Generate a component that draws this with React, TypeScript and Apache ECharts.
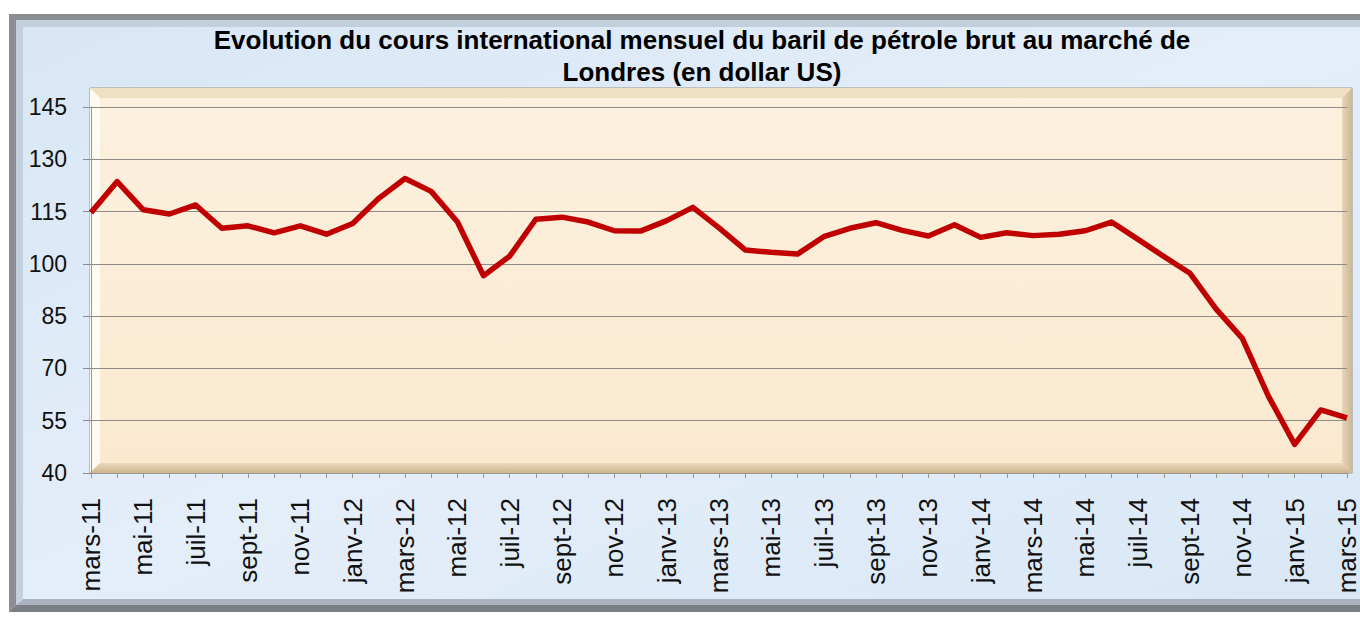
import React, { useEffect, useRef } from "react";
import * as echarts from "echarts";

const TITLE = "Evolution du cours international mensuel du baril de pétrole brut au marché de\nLondres (en dollar US)";

// mars-11 .. mars-15
const categories: string[] = [
  "mars-11", "avr-11", "mai-11", "juin-11", "juil-11", "août-11", "sept-11", "oct-11", "nov-11", "déc-11",
  "janv-12", "févr-12", "mars-12", "avr-12", "mai-12", "juin-12", "juil-12", "août-12", "sept-12", "oct-12", "nov-12", "déc-12",
  "janv-13", "févr-13", "mars-13", "avr-13", "mai-13", "juin-13", "juil-13", "août-13", "sept-13", "oct-13", "nov-13", "déc-13",
  "janv-14", "févr-14", "mars-14", "avr-14", "mai-14", "juin-14", "juil-14", "août-14", "sept-14", "oct-14", "nov-14", "déc-14",
  "janv-15", "févr-15", "mars-15",
];

const brentPrices: number[] = [
  114.7, 123.6, 115.5, 114.3, 116.9, 110.2, 110.9, 108.9, 110.9, 108.5,
  111.6, 118.8, 124.5, 120.8, 112.1, 96.6, 102.2, 112.8, 113.4, 112.0, 109.5, 109.4,
  112.4, 116.2, 110.3, 104.0, 103.3, 102.8, 107.8, 110.2, 111.8, 109.6, 108.0, 111.2,
  107.6, 108.9, 108.1, 108.5, 109.5, 112.0, 107.1, 102.1, 97.3, 87.0, 78.6, 62.0,
  48.2, 58.1, 55.8,
];

const Y_MIN = 40;
const Y_MAX = 145;
const Y_STEP = 15;

export default function App() {
  const ref = useRef<HTMLDivElement>(null);

  useEffect(() => {
    document.body.style.margin = "0";
    if (!ref.current) return;
    const chart = echarts.init(ref.current, null, { renderer: "svg" });
    const font = "'Liberation Sans', Arial, sans-serif";

    const px0 = 90, py0 = 88, px1 = 1352, py1 = 473, bv = 10;

    chart.setOption({
      animation: false,
      backgroundColor: "#ffffff",
      title: {
        text: TITLE,
        left: 702,
        top: 24,
        padding: 0,
        textAlign: "center",
        textStyle: {
          fontFamily: font,
          fontWeight: "bold",
          fontSize: 26,
          lineHeight: 32,
          color: "#000000",
        },
      },
      graphic: [
        // outer frame
        {
          type: "rect", z: -20, silent: true,
          shape: { x: 9, y: 14, width: 1360, height: 598 },
          style: {
            fill: {
              type: "linear", x: 0, y: 0, x2: 1, y2: 1,
              colorStops: [
                { offset: 0, color: "#d8e6f5" },
                { offset: 0.5, color: "#e4eef9" },
                { offset: 1, color: "#d9e7f6" },
              ],
            },
          },
        },
        {
          type: "polygon", z: -19, silent: true,
          shape: { points: [[9, 14], [1360, 14], [1360, 20], [16, 20], [16, 605], [9, 612]] },
          style: { fill: "#8a8d92" },
        },
        {
          type: "polygon", z: -19, silent: true,
          shape: { points: [[16, 20], [1360, 20], [1360, 27], [23, 27], [23, 598], [16, 605]] },
          style: { fill: "#c2cfdd" },
        },
        {
          type: "polygon", z: -19, silent: true,
          shape: { points: [[9, 612], [1360, 612], [1360, 605], [16, 605]] },
          style: { fill: "#7a7e85" },
        },
        {
          type: "polygon", z: -19, silent: true,
          shape: { points: [[16, 605], [1360, 605], [1360, 599], [23, 599]] },
          style: { fill: "#aab3bf" },
        },
        // plot box
        {
          type: "rect", z: -10, silent: true,
          shape: { x: px0, y: py0, width: px1 - px0, height: py1 - py0 },
          style: {
            fill: {
              type: "linear", x: 0, y: 0, x2: 0, y2: 1,
              colorStops: [
                { offset: 0, color: "#fcf1df" },
                { offset: 1, color: "#fae9cf" },
              ],
            },
            stroke: "#9c9484",
            lineWidth: 1,
          },
        },
        {
          type: "polygon", z: -9, silent: true,
          shape: { points: [[px0, py0], [px1, py0], [px1 - bv, py0 + bv], [px0 + bv, py0 + bv]] },
          style: { fill: "#efe0c4" },
        },
        {
          type: "polygon", z: -9, silent: true,
          shape: { points: [[px0, py0], [px0 + bv, py0 + bv], [px0 + bv, py1 - bv], [px0, py1]] },
          style: { fill: "#fffbf3" },
        },
        {
          type: "polygon", z: -9, silent: true,
          shape: { points: [[px0, py1], [px1, py1], [px1 - bv, py1 - bv], [px0 + bv, py1 - bv]] },
          style: {
            fill: {
              type: "linear", x: 0, y: 0, x2: 0, y2: 1,
              colorStops: [
                { offset: 0, color: "#ead8ba" },
                { offset: 1, color: "#cdb690" },
              ],
            },
          },
        },
        {
          type: "polygon", z: -9, silent: true,
          shape: { points: [[px1, py0], [px1, py1], [px1 - bv, py1 - bv], [px1 - bv, py0 + bv]] },
          style: {
            fill: {
              type: "linear", x: 0, y: 0, x2: 1, y2: 0,
              colorStops: [
                { offset: 0, color: "#e8d6b8" },
                { offset: 1, color: "#cbb896" },
              ],
            },
          },
        },
      ],
      grid: {
        left: 91,
        right: 8,
        top: 107,
        bottom: 146,
        containLabel: false,
      },
      xAxis: {
        type: "category",
        data: categories,
        boundaryGap: false,
        axisLine: { show: true, lineStyle: { color: "#9a968e", width: 1 } },
        axisTick: { show: true, interval: 0, length: 5, lineStyle: { color: "#9a968e" } },
        axisLabel: {
          interval: 1,
          rotate: 90,
          margin: 25,
          fontFamily: font,
          fontSize: 26,
          color: "#111111",
        },
        splitLine: { show: false },
      },
      yAxis: {
        type: "value",
        min: Y_MIN,
        max: Y_MAX,
        interval: Y_STEP,
        axisLine: { show: true, lineStyle: { color: "#9a968e", width: 1 } },
        axisTick: { show: true, length: 8, lineStyle: { color: "#8c8c8c" } },
        axisLabel: {
          margin: 24,
          fontFamily: font,
          fontSize: 23,
          color: "#111111",
        },
        splitLine: { show: true, lineStyle: { color: "#8e8a84", width: 1 } },
      },
      series: [
        {
          type: "line",
          name: "Brent",
          data: brentPrices,
          showSymbol: false,
          symbol: "none",
          lineStyle: { color: "#c00000", width: 5.5, join: "round" },
          z: 5,
        },
      ],
    });

    return () => chart.dispose();
  }, []);

  return <div ref={ref} style={{ width: 1360, height: 619 }} />;
}
